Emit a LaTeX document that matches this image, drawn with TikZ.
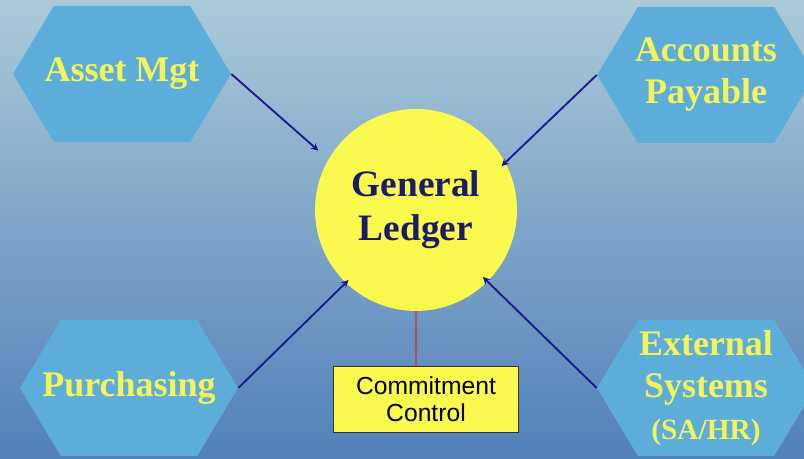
\documentclass[tikz,border=0pt]{standalone}
\usepackage{fontspec}
\setmainfont{Liberation Serif}
\newfontfamily\arialfont{Liberation Sans}
\usepackage{xcolor}
\usepackage{tikz}
\usetikzlibrary{shapes,arrows,positioning}

\definecolor{bgtop}{HTML}{AACAD8}
\definecolor{bgmid}{HTML}{82A6C8}
\definecolor{bgbottom}{HTML}{5180B9}
\definecolor{hexblue}{HTML}{5DADDA}
\definecolor{labelyellow}{HTML}{F4F45A}
\definecolor{ledgeryellow}{HTML}{F9F94E}
\definecolor{navy}{HTML}{1B1B6B}
\definecolor{arrowblue}{HTML}{1A1A8C}
\definecolor{linkred}{HTML}{B0505A}

\begin{document}
\begin{tikzpicture}[
    x=0.75pt, y=-0.75pt,
    module/.style={signal, signal to=west and east, signal pointer angle=118, fill=hexblue, draw=none, minimum width=163.5pt, minimum height=102pt, inner xsep=-45pt, inner ysep=0pt, align=center, text=labelyellow, font=\fontsize{27}{31.5}\selectfont\bfseries},
    ledger/.style={circle, fill=ledgeryellow, draw=none, minimum size=151.5pt, inner sep=0pt, align=center, text=navy, font=\fontsize{28}{33}\selectfont\bfseries},
    control/.style={rectangle, fill=ledgeryellow, draw=black!80, line width=0.8pt, minimum width=139pt, minimum height=49.5pt, align=center, font=\arialfont\fontsize{18.5}{20.5}\selectfont},
    arrow/.style={line width=1.4pt, draw=arrowblue, ->, >=stealth},
    link/.style={line width=1pt, draw=linkred}
]
    % Background
    \useasboundingbox (0,0) rectangle (804,459);
    \clip (0,0) rectangle (804,459);
    \shade [top color=bgtop, middle color=bgmid, bottom color=bgbottom] (0,0) rectangle (804,459);

    % Centre
    \node [ledger] (gl) at (416,210) {General\\Ledger};
    \node [control, below=41pt of gl, xshift=7.5pt] (commit) {Commitment\\Control};
    \draw [link] (gl) -- (gl |- commit.north);

    % Top row
    \node [module] (asset) at (122,74) {Asset Mgt};
    \node [module] (payable) at (706,75) {Accounts\\Payable};

    % Bottom row
    \node [module] (purchasing) at (129,388) {Purchasing};
    \node [module] (external) at (706,388) {External\\Systems\\{\fontsize{22}{31.5}\selectfont(SA/HR)}};

    % Arrows
    \draw [arrow, shorten >=10pt] (asset.east) -- (gl.150);
    \draw [arrow, shorten >=-4pt] (payable.west) -- (gl.28);
    \draw [arrow, shorten >=-3pt] (purchasing.east) -- (gl.226);
    \draw [arrow, shorten >=-5pt] (external.west) -- (gl.315);
\end{tikzpicture}
\end{document}
